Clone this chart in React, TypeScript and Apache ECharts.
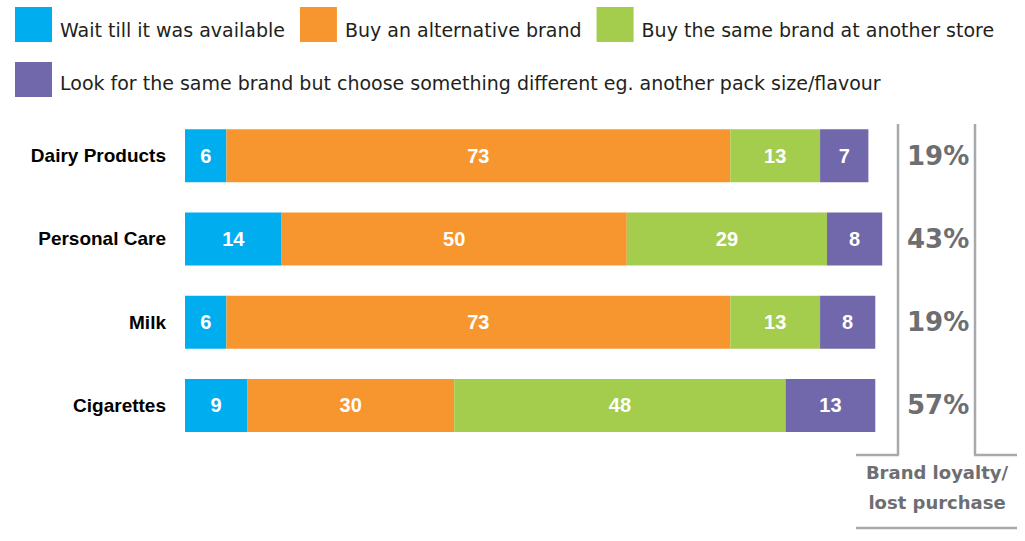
import React, { useEffect, useRef } from "react";
import * as echarts from "echarts";

const categories = ["Dairy Products", "Personal Care", "Milk", "Cigarettes"];
const seriesNames = [
  "Wait till it was available",
  "Buy an alternative brand",
  "Buy the same brand at another store",
  "Look for the same brand but choose something different eg. another pack size/flavour",
];
const waitValues = [6, 14, 6, 9];
const altBrandValues = [73, 50, 73, 30];
const otherStoreValues = [13, 29, 13, 48];
const differentValues = [7, 8, 8, 13];
const loyaltyValues = [19, 43, 19, 57];
const colors = ["#00AEEF", "#F7962F", "#A4CD4E", "#7068AB"];

export default function App() {
  const ref = useRef<HTMLDivElement>(null);
  useEffect(() => {
    if (!ref.current) return;
    const chart = echarts.init(ref.current, null, { renderer: "svg" });
    const allValues = [waitValues, altBrandValues, otherStoreValues, differentValues];
    const lineColor = "#A7A9AC";
    const lw = 2.5;
    const legendBase = { fontFamily: "DejaVu Sans", fontSize: 19, color: "#231F20" };
    chart.setOption({
      animation: false,
      color: colors,
      legend: [
        {
          data: seriesNames.slice(0, 3),
          left: 15,
          top: 7,
          padding: 0,
          itemWidth: 37,
          itemHeight: 35,
          itemGap: 15,
          icon: "rect",
          selectedMode: false,
          formatter: (name: string) => `{t|${name}}`,
          textStyle: {
            ...legendBase,
            rich: { t: { ...legendBase, padding: [11, 0, 0, 3] } },
          },
        },
        {
          data: seriesNames.slice(3),
          left: 15,
          top: 62,
          padding: 0,
          itemWidth: 37,
          itemHeight: 35,
          icon: "rect",
          selectedMode: false,
          formatter: (name: string) => `{t|${name}}`,
          textStyle: {
            ...legendBase,
            rich: { t: { ...legendBase, padding: [6, 0, 0, 3] } },
          },
        },
      ],
      grid: { left: 185, top: 114, width: 711, height: 333, containLabel: false },
      xAxis: {
        type: "value",
        min: 0,
        max: 103,
        show: false,
      },
      yAxis: [
        {
          type: "category",
          data: categories,
          inverse: true,
          axisLine: { show: false },
          axisTick: { show: false },
          axisLabel: {
            margin: 19,
            fontFamily: "Liberation Sans",
            fontWeight: "bold",
            fontSize: 19,
            color: "#000000",
          },
        },
        {
          type: "category",
          data: categories,
          inverse: true,
          position: "right",
          axisLine: { show: false },
          axisTick: { show: false },
          axisLabel: {
            margin: 11,
            align: "left",
            fontFamily: "DejaVu Sans",
            fontWeight: "bold",
            fontSize: 26,
            color: "#6D6E71",
            formatter: (_v: string, i: number) => loyaltyValues[i] + "%",
          },
        },
      ],
      series: seriesNames.map((name, k) => ({
        name,
        type: "bar",
        stack: "total",
        barWidth: 53,
        data: allValues[k],
        itemStyle: { color: colors[k] },
        label: {
          show: true,
          position: "inside",
          color: "#FFFFFF",
          fontFamily: "Liberation Sans",
          fontWeight: "bold",
          fontSize: 20,
        },
      })),
      graphic: [
        { type: "line", shape: { x1: 898, y1: 124, x2: 898, y2: 455 }, style: { stroke: lineColor, lineWidth: lw } },
        { type: "line", shape: { x1: 856, y1: 455, x2: 899, y2: 455 }, style: { stroke: lineColor, lineWidth: lw } },
        { type: "line", shape: { x1: 975, y1: 124, x2: 975, y2: 455 }, style: { stroke: lineColor, lineWidth: lw } },
        { type: "line", shape: { x1: 974, y1: 455, x2: 1017, y2: 455 }, style: { stroke: lineColor, lineWidth: lw } },
        { type: "line", shape: { x1: 856, y1: 528, x2: 1017, y2: 528 }, style: { stroke: lineColor, lineWidth: lw } },
        {
          type: "text",
          x: 937,
          y: 487,
          style: {
            text: "Brand loyalty/\nlost purchase",
            fontFamily: "DejaVu Sans",
            fontWeight: "bold",
            fontSize: 18,
            lineHeight: 30,
            fill: "#6D6E71",
            align: "center",
            verticalAlign: "middle",
          },
        },
      ],
    });
    return () => chart.dispose();
  }, []);
  return (
    <div
      ref={ref}
      style={{ position: "fixed", left: 0, top: 0, width: 1025, height: 541, background: "#FFFFFF" }}
    />
  );
}
